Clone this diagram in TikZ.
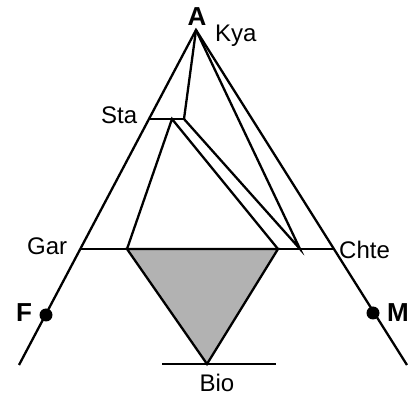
\documentclass[tikz,border=0pt]{standalone}
\usepackage{fontspec}
\setmainfont{Liberation Sans}
\begin{document}
\begin{tikzpicture}[x=1pt,y=-1pt,
  ln/.style={line width=2.3pt,line join=miter},
  lbl/.style={inner sep=0pt,anchor=base west,font=\fontsize{24pt}{28pt}\selectfont},
  blbl/.style={inner sep=0pt,anchor=base west,font=\fontsize{26pt}{30pt}\selectfont\bfseries},
  dotmark/.style={circle,fill=black,inner sep=0pt,minimum size=13pt}]
\useasboundingbox (0,0) rectangle (416,398);
% points
\coordinate (A) at (196,30);
\coordinate (L) at (19,365);
\coordinate (R) at (407,365);
\coordinate (G1) at (80.3,249);
\coordinate (G2) at (333.9,249);
\coordinate (S1) at (149,119);
\coordinate (S2) at (184,119);
\coordinate (S3) at (172,119);
\coordinate (T1) at (127,249);
\coordinate (T2) at (278,249);
\coordinate (P) at (300,249);
\coordinate (B) at (207,364);
\coordinate (B1) at (162,364);
\coordinate (B2) at (276,364);
% shaded triangle
\filldraw[ln,fill=black!30] (T1) -- (T2) -- (B) -- cycle;
% lines
\draw[ln] (L) -- (A) -- (R);
\draw[ln] (G1) -- (G2);
\draw[ln] (S1) -- (S2);
\draw[ln] (A) -- (S2);
\draw[ln] (T1) -- (S3) -- (T2);
\draw[ln] (S2) -- (P) -- (A);
\draw[ln] (B1) -- (B2);
% dots
\node[dotmark] (Fd) at (46,315) {};
\node[dotmark] (Md) at (373,313) {};
% labels
\node[blbl,anchor=base] (lA) at (197,26) {A};
\node[lbl] (lKya) at (215,42) {Kya};
\node[lbl] (lSta) at (101,124) {Sta};
\node[lbl] (lGar) at (27,255) {Gar};
\node[lbl] (lChte) at (339,259) {Chte};
\node[lbl,anchor=base] (lBio) at (217,392) {Bio};
\node[blbl] (lF) at (16,322) {F};
\node[blbl] (lM) at (387,322) {M};
\end{tikzpicture}
\end{document}
